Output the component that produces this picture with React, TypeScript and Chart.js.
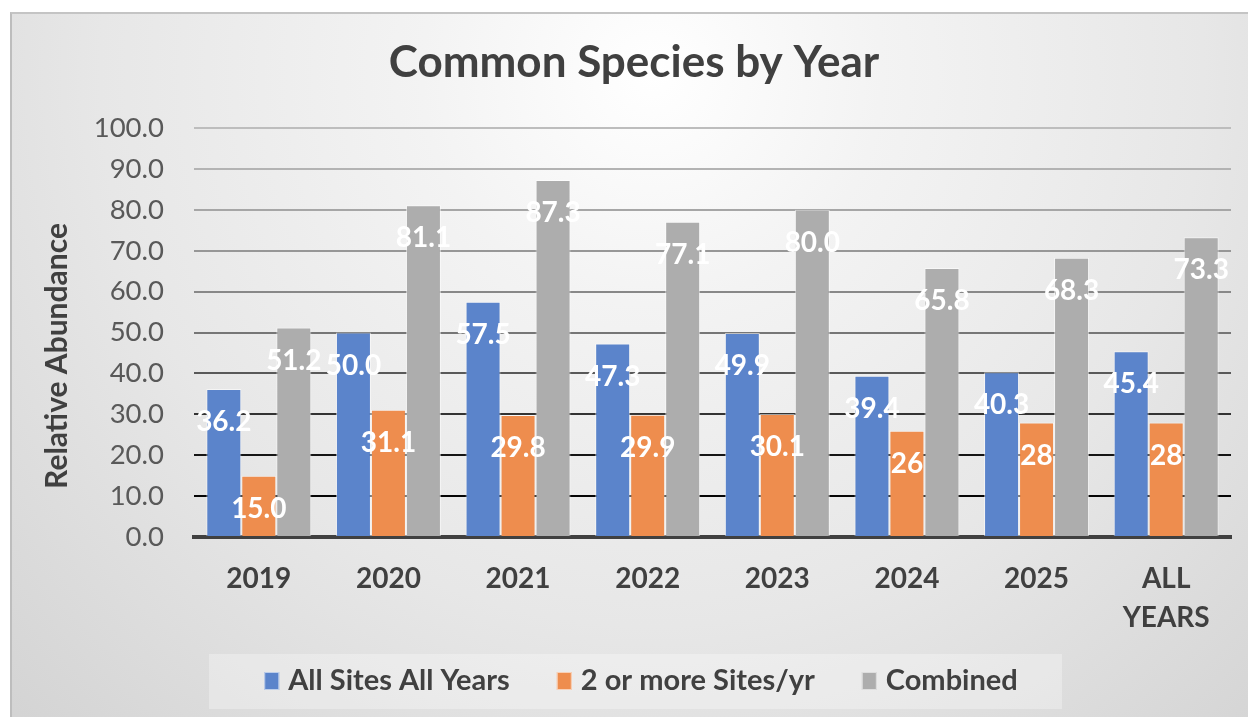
import React, { useEffect, useRef } from 'react';
import { Chart, registerables } from 'chart.js';

Chart.register(...registerables);

// ---------- data ----------
const categories: (string | string[])[] = ['2019', '2020', '2021', '2022', '2023', '2024', '2025', ['ALL', 'YEARS']];
const seriesNames = ['All Sites All Years', '2 or more Sites/yr', 'Combined'];
const allSitesAllYears = [36.2, 50.0, 57.5, 47.3, 49.9, 39.4, 40.3, 45.4];
const twoOrMoreSites = [15.0, 31.1, 29.8, 29.9, 30.1, 26, 28, 28];
const combined = [51.2, 81.1, 87.3, 77.1, 80.0, 65.8, 68.3, 73.3];
const allSitesLabels = ['36.2', '50.0', '57.5', '47.3', '49.9', '39.4', '40.3', '45.4'];
const twoOrMoreLabels = ['15.0', '31.1', '29.8', '29.9', '30.1', '26', '28', '28'];
const combinedLabels = ['51.2', '81.1', '87.3', '77.1', '80.0', '65.8', '68.3', '73.3'];
const yMin = 0;
const yMax = 100;
const yStep = 10;
const titleText = 'Common Species by Year';
const yAxisTitle = 'Relative Abundance';

// ---------- styles ----------
const seriesColors = ['#5B84CB', '#EE8D4E', '#ADADAD'];
const FONT = 'Lato, "Open Sans", sans-serif';
const TEXT_DARK = '#404040';

function gridColor(v: number): string {
  if (v <= 0) return '#404040';
  if (v <= 10) return '#050505';
  if (v <= 20) return '#151515';
  if (v <= 30) return '#333333';
  if (v <= 40) return '#595959';
  if (v <= 50) return '#767676';
  if (v <= 60) return '#888888';
  if (v <= 70) return '#979797';
  if (v <= 80) return '#a6a6a6';
  if (v <= 90) return '#b3b3b3';
  return '#bdbdbd';
}

const labelTexts = [allSitesLabels, twoOrMoreLabels, combinedLabels];

const decorPlugin = {
  id: 'decor',
  afterDatasetsDraw(chart: any) {
    const ctx = chart.ctx as CanvasRenderingContext2D;
    ctx.save();
    // data labels
    ctx.font = `bold 28px ${FONT}`;
    ctx.fillStyle = '#ffffff';
    ctx.textAlign = 'center';
    ctx.textBaseline = 'middle';
    chart.data.datasets.forEach((ds: any, di: number) => {
      const meta = chart.getDatasetMeta(di);
      meta.data.forEach((el: any, i: number) => {
        ctx.fillText(labelTexts[di][i], el.x, el.y + 33);
      });
    });
    ctx.restore();
  },
  afterDraw(chart: any) {
    const ctx = chart.ctx as CanvasRenderingContext2D;
    ctx.save();
    // title
    ctx.font = `bold 44px ${FONT}`;
    ctx.fillStyle = TEXT_DARK;
    ctx.textAlign = 'center';
    ctx.textBaseline = 'alphabetic';
    ctx.fillText(titleText, 634, 77);

    // y axis title
    ctx.save();
    ctx.translate(67, 356);
    ctx.rotate(-Math.PI / 2);
    ctx.font = `bold 30px ${FONT}`;
    ctx.fillText(yAxisTitle, 0, 0);
    ctx.restore();

    // legend
    ctx.fillStyle = 'rgba(255,255,255,0.3)';
    ctx.fillRect(209, 654, 853, 55);
    ctx.font = `bold 29px ${FONT}`;
    const markerW = 15;
    const markerGap = 9;
    const itemGap = 47;
    const widths = seriesNames.map((n) => ctx.measureText(n).width);
    const total = widths.reduce((a, w) => a + markerW + markerGap + w, 0) + itemGap * (seriesNames.length - 1);
    let x = 641 - total / 2;
    ctx.textAlign = 'left';
    ctx.textBaseline = 'middle';
    seriesNames.forEach((n, i) => {
      ctx.fillStyle = seriesColors[i];
      ctx.fillRect(x, 672, markerW, 18);
      ctx.strokeStyle = 'rgba(255,255,255,0.6)';
      ctx.lineWidth = 1;
      ctx.strokeRect(x + 0.5, 672.5, markerW - 1, 17);
      ctx.fillStyle = TEXT_DARK;
      ctx.fillText(n, x + markerW + markerGap, 681);
      x += markerW + markerGap + widths[i] + itemGap;
    });
    ctx.restore();
  },
};

export default function App() {
  const ref = useRef<HTMLCanvasElement>(null);
  useEffect(() => {
    if (!ref.current) return;
    const chart = new Chart(ref.current, {
      type: 'bar',
      data: {
        labels: categories as any,
        datasets: [
          { label: seriesNames[0], data: allSitesAllYears, backgroundColor: seriesColors[0] },
          { label: seriesNames[1], data: twoOrMoreSites, backgroundColor: seriesColors[1] },
          { label: seriesNames[2], data: combined, backgroundColor: seriesColors[2] },
        ].map((d) => ({
          ...d,
          borderColor: 'rgba(255,255,255,0.55)',
          borderWidth: 1,
          categoryPercentage: 0.81,
          barPercentage: 1.0,
        })),
      },
      options: {
        responsive: false,
        animation: false,
        layout: { padding: { left: 0, right: 17, top: 128, bottom: 0 } },
        plugins: {
          legend: { display: false },
          title: { display: false },
          tooltip: { enabled: false },
        },
        scales: {
          x: {
            grid: { display: false, drawTicks: false },
            border: { display: true, color: '#404040', width: 4 },
            ticks: {
              color: TEXT_DARK,
              font: { family: FONT, size: 28, weight: 'bold', lineHeight: 1.4 },
              padding: 22,
              maxRotation: 0,
              autoSkip: false,
            },
            afterFit: (scale: any) => {
              scale.height = 180;
            },
          },
          y: {
            min: yMin,
            max: yMax,
            grid: {
              drawTicks: false,
              lineWidth: 2,
              color: (c: any) => gridColor(c.tick ? c.tick.value : 0),
            },
            border: { display: false },
            ticks: {
              stepSize: yStep,
              color: '#595959',
              font: { family: FONT, size: 27.5 },
              padding: 30,
              callback: (v: any) => Number(v).toFixed(1),
            },
            afterFit: (scale: any) => {
              scale.width = 194;
            },
          },
        },
      },
      plugins: [decorPlugin],
    });
    return () => chart.destroy();
  }, []);

  return (
    <div style={{ position: 'absolute', left: 0, top: 0, width: 1248, height: 717, background: '#ffffff', overflow: 'hidden' }}>
      <div
        style={{
          position: 'absolute',
          left: 10,
          top: 12,
          width: 1260,
          height: 720,
          borderLeft: '2px solid #bdbdbd',
          borderTop: '2px solid #c4c4c4',
          background: 'radial-gradient(circle at 640px 60px, #ffffff 0%, #f3f3f3 25%, #e7e7e7 60%, #d3d3d3 100%)',
        }}
      />
      <canvas ref={ref} width={1248} height={717} style={{ position: 'absolute', left: 0, top: 0, width: 1248, height: 717 }} />
    </div>
  );
}
